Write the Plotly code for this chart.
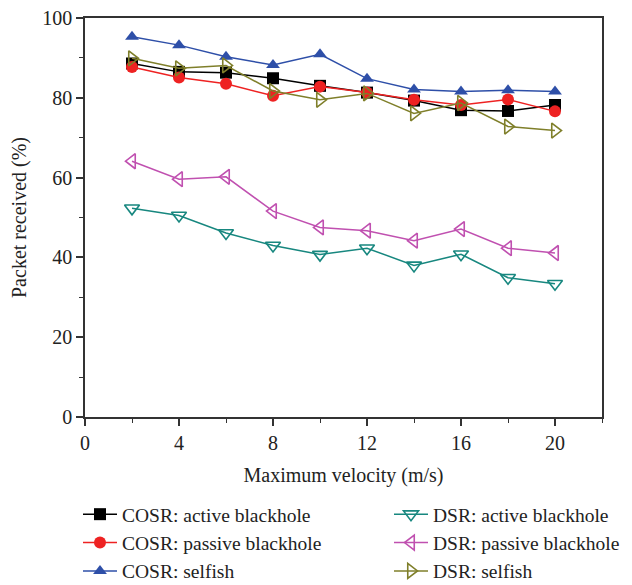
import plotly.graph_objects as go

velocity = [2, 4, 6, 8, 10, 12, 14, 16, 18, 20]
cosr_active = [88.6, 86.5, 86.3, 84.9, 83.0, 81.3, 79.3, 76.9, 76.7, 78.2]
cosr_passive = [87.7, 85.1, 83.5, 80.5, 82.8, 81.3, 79.5, 78.2, 79.6, 76.6]
cosr_selfish = [95.3, 93.2, 90.3, 88.2, 90.9, 84.8, 82.1, 81.6, 81.9, 81.6]
dsr_active = [52.3, 50.5, 46.1, 43.0, 40.7, 42.3, 38.0, 40.8, 34.9, 33.4]
dsr_passive = [64.1, 59.6, 60.2, 51.6, 47.5, 46.7, 44.2, 47.1, 42.3, 41.1]
dsr_selfish = [89.9, 87.4, 88.1, 81.7, 79.5, 81.1, 76.1, 78.7, 72.8, 71.8]

x_ticks = [0, 4, 8, 12, 16, 20]
y_ticks = [0, 20, 40, 60, 80, 100]

FONT = "Liberation Serif, DejaVu Serif, serif"
FS = 20
LFS = 19.5
W, H = 624, 577  # page body has an 8px margin
L, R, T, B = 77, 30, 10, 168
PW, PH = W - L - R, H - T - B

series = [
    ("COSR: active blackhole", cosr_active, "#000000", "square", True, "legend"),
    ("COSR: passive blackhole", cosr_passive, "#EE2222", "circle", True, "legend"),
    ("COSR: selfish", cosr_selfish, "#2E4FA8", "triangle-up", True, "legend"),
    ("DSR: active blackhole", dsr_active, "#17877F", "triangle-down-open", False, "legend2"),
    ("DSR: passive blackhole", dsr_passive, "#C050B0", "triangle-left-open", False, "legend2"),
    ("DSR: selfish", dsr_selfish, "#7F7F2A", "triangle-right-open", False, "legend2"),
]

fig = go.Figure()
for name, vals, color, sym, filled, leg in series:
    fig.add_trace(go.Scatter(
        x=velocity, y=vals, name=name, mode="lines+markers",
        line=dict(color=color, width=1.5),
        marker=dict(symbol=sym, size=12 if filled else 13, color=color,
                    line=dict(color=color, width=1.6 if not filled else 0)),
        legend=leg,
    ))

leg_top = (H - B - 487) / PH
fig.update_layout(
    width=W, height=H,
    margin=dict(l=L, r=R, t=T, b=B, autoexpand=False),
    paper_bgcolor="white", plot_bgcolor="white",
    font=dict(family=FONT, size=FS, color="#222222"),
    showlegend=True,
    legend=dict(x=(70 - L) / PW, y=leg_top,
                xanchor="left", yanchor="top",
                font=dict(family=FONT, size=LFS), tracegroupgap=0,
                bgcolor="rgba(0,0,0,0)", itemwidth=34),
    legend2=dict(x=(381 - L) / PW, y=leg_top,
                 xanchor="left", yanchor="top",
                 font=dict(family=FONT, size=LFS), tracegroupgap=0,
                 bgcolor="rgba(0,0,0,0)", itemwidth=34),
)
fig.update_xaxes(
    range=[0, 22], tickvals=x_ticks, ticks="outside", ticklen=7, tickwidth=1.5,
    showline=True, linecolor="#333333", linewidth=1.5, mirror=True,
    showgrid=False, zeroline=False, automargin=False, ticklabeloverflow="allow",
    minor=dict(tickvals=[2, 6, 10, 14, 18, 22], ticks="outside", ticklen=4,
               tickwidth=1.2, tickcolor="#333333"),
    tickcolor="#333333",
    title=dict(text="Maximum velocity (m/s)", font=dict(family=FONT, size=FS)),
    tickfont=dict(family=FONT, size=FS),
)
fig.update_yaxes(
    range=[0, 100], tickvals=y_ticks, ticks="outside", ticklen=7, tickwidth=1.5,
    showline=True, linecolor="#333333", linewidth=1.5, mirror=True,
    showgrid=False, zeroline=False, automargin=False, ticklabeloverflow="allow",
    minor=dict(tickvals=[10, 30, 50, 70, 90], ticks="outside", ticklen=4,
               tickwidth=1.2, tickcolor="#333333"),
    tickcolor="#333333",
    title=dict(text="Packet received (%)", font=dict(family=FONT, size=FS)),
    tickfont=dict(family=FONT, size=FS),
)

fig.write_html("out.html")
